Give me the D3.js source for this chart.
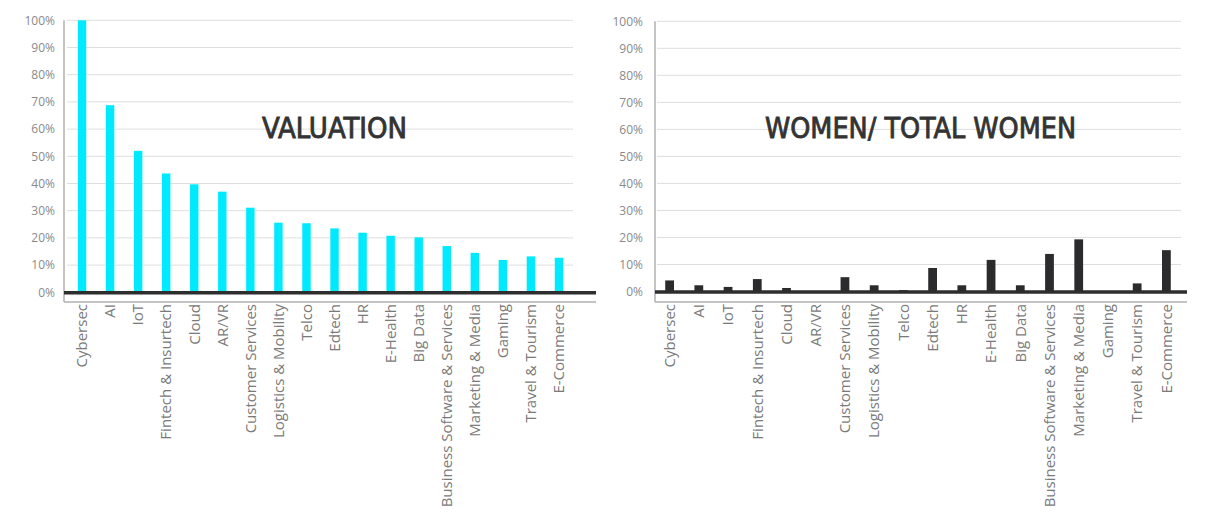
<!DOCTYPE html>
<html>
<head>
<meta charset="utf-8">
<script src="https://cdn.jsdelivr.net/npm/d3@7/dist/d3.min.js"></script>
<style>
  html, body { margin: 0; padding: 0; background: #fff; }
  svg { display: block; }
</style>
</head>
<body>
<svg id="chart" width="1219" height="531"></svg>
<script>
const categories = ["Cybersec", "AI", "IoT", "Fintech & Insurtech", "Cloud", "AR/VR",
  "Customer Services", "Logistics & Mobility", "Telco", "Edtech", "HR", "E-Health",
  "Big Data", "Business Software & Services", "Marketing & Media", "Gaming",
  "Travel & Tourism", "E-Commerce"];
const valuation = [1.00, 0.688, 0.52, 0.437, 0.397, 0.37, 0.311, 0.256, 0.254, 0.235,
  0.219, 0.208, 0.202, 0.170, 0.145, 0.119, 0.132, 0.127];
const womenShare = [0.041, 0.023, 0.017, 0.046, 0.013, 0.0, 0.053, 0.023, 0.005, 0.087,
  0.023, 0.117, 0.023, 0.139, 0.193, 0.0, 0.030, 0.153];
const yTicks = [0, 0.1, 0.2, 0.3, 0.4, 0.5, 0.6, 0.7, 0.8, 0.9, 1.0];
const titles = ["VALUATION", "WOMEN/ TOTAL WOMEN"];

const svg = d3.select("#chart");

function panel(cfg) {
  const g = svg.append("g");
  const x = d3.scaleBand().domain(categories)
    .range([cfg.x0, cfg.x1]).paddingInner(0.7).paddingOuter(0.35);
  const y = d3.scaleLinear().domain([0, 1]).range([cfg.yZero, cfg.yTop]);

  // gridlines
  g.selectAll("line.grid").data(yTicks.filter(t => t > 0)).join("line")
    .attr("x1", cfg.gridStart).attr("x2", cfg.x1)
    .attr("y1", d => y(d)).attr("y2", d => y(d))
    .attr("stroke", "#dedede").attr("stroke-width", 1);

  // y axis
  const ax = g.append("g").attr("transform", `translate(${cfg.axisX},0)`)
    .call(d3.axisLeft(y).tickValues(yTicks).tickFormat(d3.format(".0%")).tickSize(0).tickPadding(cfg.labelPad));
  ax.select(".domain").remove();
  ax.selectAll("text").attr("fill", "#8a8a8a").attr("font-size", 12)
    .attr("font-family", "Open Sans, sans-serif");

  // frame lines
  g.append("line").attr("x1", cfg.axisX).attr("x2", cfg.axisX)
    .attr("y1", cfg.yTop).attr("y2", cfg.yBottom)
    .attr("stroke", "#b0b0b0").attr("stroke-width", 1.5);
  g.append("line").attr("x1", cfg.axisX).attr("x2", cfg.lineEnd)
    .attr("y1", cfg.yBottom).attr("y2", cfg.yBottom)
    .attr("stroke", "#b0b0b0").attr("stroke-width", 1.5);

  // bars
  g.selectAll("rect.bar").data(categories).join("rect")
    .attr("x", d => x(d)).attr("width", x.bandwidth())
    .attr("y", (d, i) => y(cfg.values[i]))
    .attr("height", (d, i) => y(0) - y(cfg.values[i]))
    .attr("fill", cfg.color);

  // thick zero line
  g.append("line").attr("x1", cfg.axisX).attr("x2", cfg.lineEnd)
    .attr("y1", y(0) + 0.5).attr("y2", y(0) + 0.5)
    .attr("stroke", "#2e2e2e").attr("stroke-width", 3.5);

  // category labels
  const xa = g.append("g").attr("transform", `translate(0,${cfg.yBottom + 2})`)
    .call(d3.axisBottom(x).tickSize(0).tickPadding(0));
  xa.select(".domain").remove();
  xa.selectAll("text")
    .attr("transform", "rotate(-90)")
    .attr("text-anchor", "end")
    .attr("x", 0).attr("y", 0).attr("dy", "0.35em")
    .attr("fill", "#7a7a7a").attr("font-size", 15)
    .attr("font-family", "Open Sans, sans-serif");

  // title
  g.append("text").attr("x", cfg.titleX).attr("y", 138)
    .attr("font-family", "DejaVu Sans Condensed, DejaVu Sans, sans-serif")
    .attr("font-stretch", "condensed")
    .attr("font-size", 28).attr("fill", "#333")
    .attr("stroke", "#333").attr("stroke-width", 0.8)
    .attr("textLength", cfg.titleW).attr("lengthAdjust", "spacingAndGlyphs")
    .text(cfg.title);
}

panel({ x0: 68, x1: 573, gridStart: 67, axisX: 64, lineEnd: 596, yZero: 292.3, yTop: 20.3,
  yBottom: 302, labelPad: 9, values: valuation, color: "#00eaff", title: titles[0], titleX: 262, titleW: 145 });
panel({ x0: 655, x1: 1181, gridStart: 657, axisX: 655, lineEnd: 1187, yZero: 291.5, yTop: 21.3,
  yBottom: 302, labelPad: 12, values: womenShare, color: "#2b2b2d", title: titles[1], titleX: 765, titleW: 311 });
</script>
</body>
</html>
